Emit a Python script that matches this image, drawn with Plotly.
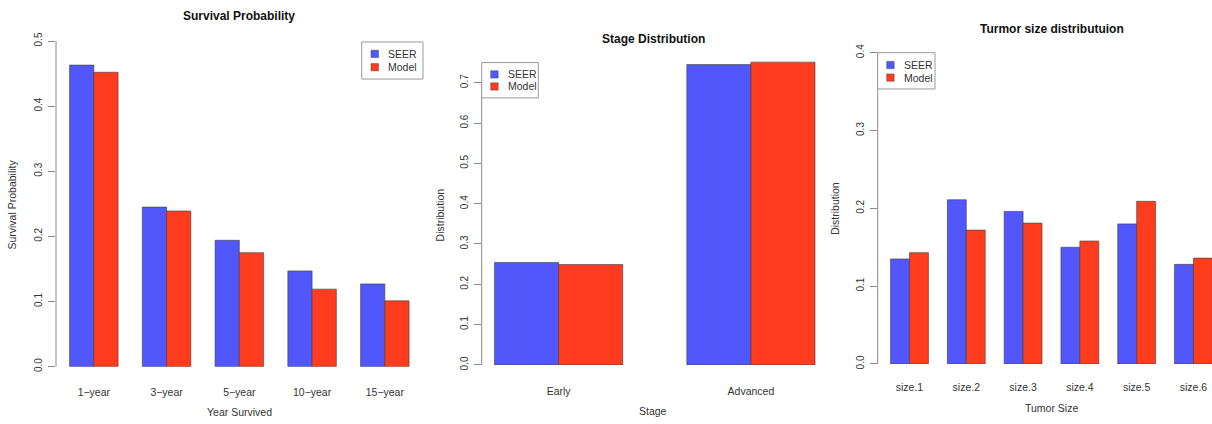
import plotly.graph_objects as go

# ---- data -------------------------------------------------------------
survival_years = ["1−year", "3−year", "5−year", "10−year", "15−year"]
survival_seer = [0.463, 0.245, 0.194, 0.147, 0.127]
survival_model = [0.452, 0.239, 0.175, 0.119, 0.101]

stage_names = ["Early", "Advanced"]
stage_seer = [0.254, 0.745]
stage_model = [0.249, 0.751]

size_names = ["size.1", "size.2", "size.3", "size.4", "size.5", "size.6"]
size_seer = [0.135, 0.211, 0.196, 0.150, 0.180, 0.128]
size_model = [0.143, 0.172, 0.181, 0.158, 0.209, 0.136]

series_names = ["SEER", "Model"]

# ---- styling ----------------------------------------------------------
W, H = 1212, 424
BLUE = "#5257FB"
RED = "#FF3D1E"
EDGE = "rgba(60,60,60,0.75)"
AXIS = "#8a8a8a"
TEXT = "#333333"
FONT = "Liberation Sans, Arial, sans-serif"


def px(x):
    return x / W


def py(y):
    return 1 - y / H


# per panel: pixel frame of the plotting region and text placement
panels = [
    dict(cats=survival_years, a=survival_seer, b=survival_model,
         title="Survival Probability", xlab="Year Survived", ylab="Survival Probability",
         left=56, unit=24.25, zero=371, scale=659, ytop=0.52, axis_max=0.5, lab_off=18,
         title_xy=(239, 16), xlab_y=417, ylab_xy=(12, 207),
         legend=dict(box=(361.7, 42.5, 423, 80), sq_x=371, sq_y=(54.5, 68), txt_x=386)),
    dict(cats=stage_names, a=stage_seer, b=stage_model,
         title="Stage Distribution", xlab="Stage", ylab="Distribution",
         left=481.7, unit=64.1, zero=369.3, scale=408, ytop=0.78, axis_max=0.7, lab_off=19,
         title_xy=(653.3, 39), xlab_y=416, ylab_xy=(440, 218),
         legend=dict(box=(481.7, 63.3, 538.3, 99), sq_x=490.7, sq_y=(75.3, 87.5), txt_x=506)),
    dict(cats=size_names, a=size_seer, b=size_model,
         title="Turmor size distributuion", xlab="Tumor Size", ylab="Distribution",
         left=877.7, unit=18.93, zero=368.3, scale=787.5, ytop=0.416, axis_max=0.4, lab_off=16,
         title_xy=(1051.7, 29.3), xlab_y=412.5, ylab_xy=(835, 211.3),
         legend=dict(box=(877.7, 53.3, 935, 90), sq_x=886.7, sq_y=(65.8, 78.5), txt_x=902)),
]

fig = go.Figure()
shapes = []
annotations = []

for i, p in enumerate(panels, start=1):
    xa = "x" if i == 1 else f"x{i}"
    ya = "y" if i == 1 else f"y{i}"
    n = len(p["cats"])
    pad = 0.04 * (3 * n - 1) / 3  # R-style 4% extension of the bar region
    x_lo = -1 / 3 - pad
    right = min(W, p["left"] + 1.08 * (3 * n - 1) * p["unit"])
    x_hi = x_lo + (right - p["left"]) / (3 * p["unit"])

    fig.add_trace(go.Bar(x=p["cats"], y=p["a"], name=series_names[0], marker_color=BLUE,
                         marker_line=dict(color=EDGE, width=0.8), showlegend=False,
                         xaxis=xa, yaxis=ya))
    fig.add_trace(go.Bar(x=p["cats"], y=p["b"], name=series_names[1], marker_color=RED,
                         marker_line=dict(color=EDGE, width=0.8), showlegend=False,
                         xaxis=xa, yaxis=ya))

    top_px = p["zero"] - p["ytop"] * p["scale"]
    xkey = "xaxis" if i == 1 else f"xaxis{i}"
    ykey = "yaxis" if i == 1 else f"yaxis{i}"
    fig.update_layout(**{
        xkey: dict(domain=[px(p["left"]), px(right)], anchor=ya,
                   type="category", range=[x_lo, x_hi],
                   showline=False, showgrid=False, zeroline=False, ticks="",
                   ticklabelstandoff=int(p["lab_off"]),
                   tickfont=dict(family=FONT, size=10.5, color=TEXT)),
        ykey: dict(domain=[py(p["zero"]), py(top_px)], anchor=xa,
                   range=[0, p["ytop"]], dtick=0.1, tick0=0, tickformat=".1f",
                   showline=False, showgrid=False, zeroline=False,
                   ticks="outside", ticklen=7, tickwidth=1, tickcolor=AXIS,
                   tickangle=-90, ticklabelstandoff=2,
                   tickfont=dict(family=FONT, size=10, color=TEXT)),
    })

    # y axis line running from 0 to the last tick
    shapes.append(dict(type="line", xref=f"{xa} domain", yref=ya, x0=0, x1=0,
                       y0=0, y1=p["axis_max"], line=dict(color=AXIS, width=1)))

    # titles
    tx, ty = p["title_xy"]
    annotations.append(dict(text=f"<b>{p['title']}</b>", x=px(tx), y=py(ty), xref="paper",
                            yref="paper", showarrow=False, xanchor="center", yanchor="middle",
                            font=dict(family=FONT, size=12, color="#111111")))
    annotations.append(dict(text=p["xlab"], x=px(tx), y=py(p["xlab_y"]), xref="paper",
                            yref="paper", showarrow=False, xanchor="center", yanchor="middle",
                            font=dict(family=FONT, size=10.5, color=TEXT)))
    lx, ly = p["ylab_xy"]
    annotations.append(dict(text=p["ylab"], x=px(lx), y=py(ly), xref="paper", yref="paper",
                            showarrow=False, xanchor="center", yanchor="middle", textangle=-90,
                            font=dict(family=FONT, size=10.5, color=TEXT)))

    # legend box
    lg = p["legend"]
    x0, y0, x1, y1 = lg["box"]
    shapes.append(dict(type="rect", xref="paper", yref="paper", x0=px(x0), x1=px(x1),
                       y0=py(y1), y1=py(y0), line=dict(color="#9a9a9a", width=1),
                       fillcolor="white", layer="above"))
    for name, col, cy in zip(series_names, [BLUE, RED], lg["sq_y"]):
        shapes.append(dict(type="rect", xref="paper", yref="paper",
                           x0=px(lg["sq_x"]), x1=px(lg["sq_x"] + 7.5),
                           y0=py(cy + 3.7), y1=py(cy - 3.7),
                           line=dict(color=EDGE, width=0.6), fillcolor=col, layer="above"))
        annotations.append(dict(text=name, x=px(lg["txt_x"]), y=py(cy), xref="paper",
                                yref="paper", showarrow=False, xanchor="left",
                                yanchor="middle",
                                font=dict(family=FONT, size=10.5, color=TEXT)))

fig.update_layout(
    width=W, height=H,
    margin=dict(l=0, r=0, t=0, b=0),
    barmode="group", bargap=1 / 3, bargroupgap=0,
    paper_bgcolor="white", plot_bgcolor="white",
    shapes=shapes, annotations=annotations,
    showlegend=False,
)

fig.write_html("out.html")
